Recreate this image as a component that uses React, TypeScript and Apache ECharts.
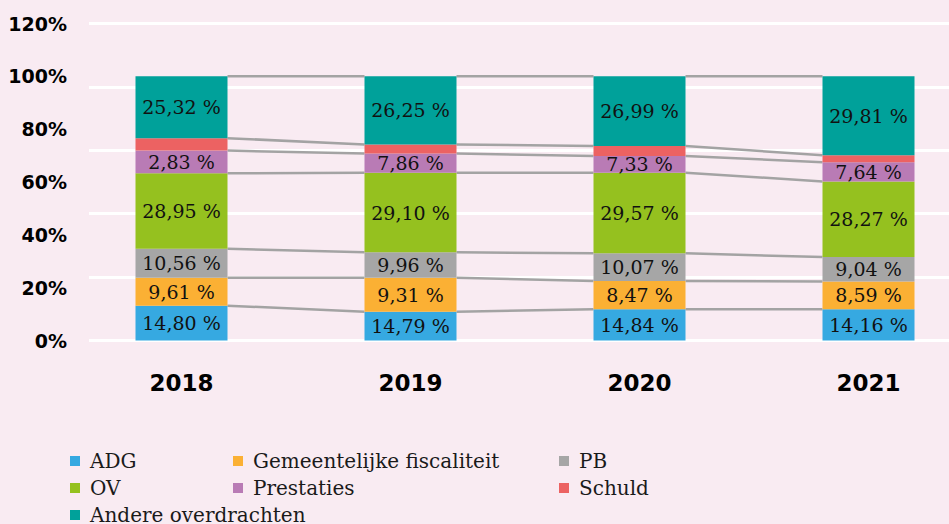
import React, { useEffect, useRef } from "react";
import * as echarts from "echarts";

const years = ["2018", "2019", "2020", "2021"];
const seriesNames = [
  "ADG",
  "Gemeentelijke fiscaliteit",
  "PB",
  "OV",
  "Prestaties",
  "Schuld",
  "Andere overdrachten",
];
const seriesColors = ["#36a9e1", "#fbb034", "#a6a6a6", "#95c11f", "#b97bb5", "#ec6262", "#00a19a"];

// segment shares as drawn (percent of the 100% bar)
const adg = [13.2, 10.9, 11.8, 11.8];
const gem = [10.6, 12.9, 10.7, 10.5];
const pb = [10.9, 9.6, 10.5, 9.3];
const ov = [28.6, 30.1, 30.5, 28.6];
const prestaties = [8.6, 7.3, 6.3, 7.3];
const schuld = [4.7, 3.4, 3.8, 2.6];
const andere = [23.4, 25.8, 26.4, 29.9];

// printed data labels
const adgLabels = ["14,80 %", "14,79 %", "14,84 %", "14,16 %"];
const gemLabels = ["9,61 %", "9,31 %", "8,47 %", "8,59 %"];
const pbLabels = ["10,56 %", "9,96 %", "10,07 %", "9,04 %"];
const ovLabels = ["28,95 %", "29,10 %", "29,57 %", "28,27 %"];
const prestatiesLabels = ["2,83 %", "7,86 %", "7,33 %", "7,64 %"];
const schuldLabels: string[] | null = null;
const andereLabels = ["25,32 %", "26,25 %", "26,99 %", "29,81 %"];

const yMin = 0;
const yMax = 120;
const yLabelStep = 20;
const gridStep = 24;

const stacks = [adg, gem, pb, ov, prestaties, schuld, andere];
const labelSets = [adgLabels, gemLabels, pbLabels, ovLabels, prestatiesLabels, schuldLabels, andereLabels];

const BG = "#f9ebf2";
const BAR_W = 92;

function cumulative(i: number): number[] {
  let s = 0;
  return stacks.map((a) => (s += a[i]));
}

export default function App() {
  const ref = useRef<HTMLDivElement>(null);

  useEffect(() => {
    if (!ref.current) return;
    const chart = echarts.init(ref.current, undefined, { renderer: "svg" });

    const barSeries = stacks.map((data, k) => ({
      name: seriesNames[k],
      type: "bar",
      stack: "total",
      xAxisIndex: 0,
      yAxisIndex: 0,
      barWidth: BAR_W,
      data,
      z: 3,
      itemStyle: { color: seriesColors[k] },
      label: labelSets[k]
        ? {
            show: true,
            position: "inside",
            formatter: (p: any) => (labelSets[k] as string[])[p.dataIndex],
            fontFamily: "DejaVu Serif",
            fontSize: 19,
            color: "#111",
          }
        : { show: false },
    }));

    const connectorSeries = {
      type: "custom",
      xAxisIndex: 0,
      yAxisIndex: 0,
      silent: true,
      z: 2,
      data: years.slice(0, years.length - 1).map((_, i) => [i]),
      encode: { x: 0 },
      renderItem: (params: any, api: any) => {
        const i = api.value(0);
        const c1 = cumulative(i);
        const c2 = cumulative(i + 1);
        const half = BAR_W / 2;
        const children = c1.map((v, k) => {
          const p1 = api.coord([i, v]);
          const p2 = api.coord([i + 1, c2[k]]);
          return {
            type: "line",
            shape: { x1: p1[0] + half, y1: p1[1], x2: p2[0] - half, y2: p2[1] },
            style: { stroke: "#a3a3a3", lineWidth: 2.5 },
          };
        });
        return { type: "group", children };
      },
    };

    const legendBase = {
      orient: "vertical",
      icon: "rect",
      itemWidth: 10,
      itemHeight: 10,
      itemGap: 7,
      padding: 0,
      top: 451,
      height: 120,
      textStyle: {
        fontFamily: "DejaVu Serif",
        fontSize: 20,
        color: "#1a1a1a",
        padding: [0, 0, 0, 5],
      },
    };

    chart.setOption({
      animation: false,
      backgroundColor: BG,
      grid: [
        { left: 67, width: 916, top: 23.5, height: 317, outerBoundsMode: "none", containLabel: false },
        { left: 89, right: 0, top: 23.5, height: 317, outerBoundsMode: "none", containLabel: false },
      ],
      xAxis: [
        {
          type: "category",
          gridIndex: 0,
          data: years,
          axisLine: { show: false },
          axisTick: { show: false },
          axisLabel: {
            margin: 31,
            fontFamily: "DejaVu Sans",
            fontWeight: "bold",
            fontSize: 23,
            color: "#000",
          },
        },
        { type: "value", gridIndex: 1, min: 0, max: 1, show: false },
      ],
      yAxis: [
        {
          type: "value",
          gridIndex: 0,
          min: yMin,
          max: yMax,
          interval: yLabelStep,
          splitLine: { show: false },
          axisLine: { show: false },
          axisTick: { show: false },
          axisLabel: {
            formatter: "{value}%",
            margin: 0,
            fontFamily: "DejaVu Sans",
            fontWeight: "bold",
            fontSize: 19,
            color: "#000",
          },
        },
        {
          type: "value",
          gridIndex: 1,
          min: yMin,
          max: yMax,
          interval: gridStep,
          axisLine: { show: false },
          axisTick: { show: false },
          axisLabel: { show: false },
          splitLine: { show: true, lineStyle: { color: "#ffffff", width: 3 } },
        },
      ],
      legend: [
        { ...legendBase, left: 70, data: [seriesNames[0], seriesNames[3], seriesNames[6]] },
        { ...legendBase, left: 233, data: [seriesNames[1], seriesNames[4]] },
        { ...legendBase, left: 559, data: [seriesNames[2], seriesNames[5]] },
      ],
      series: [...barSeries, connectorSeries],
    });

    return () => chart.dispose();
  }, []);

  return (
    <div style={{ position: "fixed", left: 0, top: 0, width: 949, height: 524, background: BG }}>
      <div ref={ref} style={{ width: 949, height: 524 }} />
    </div>
  );
}
